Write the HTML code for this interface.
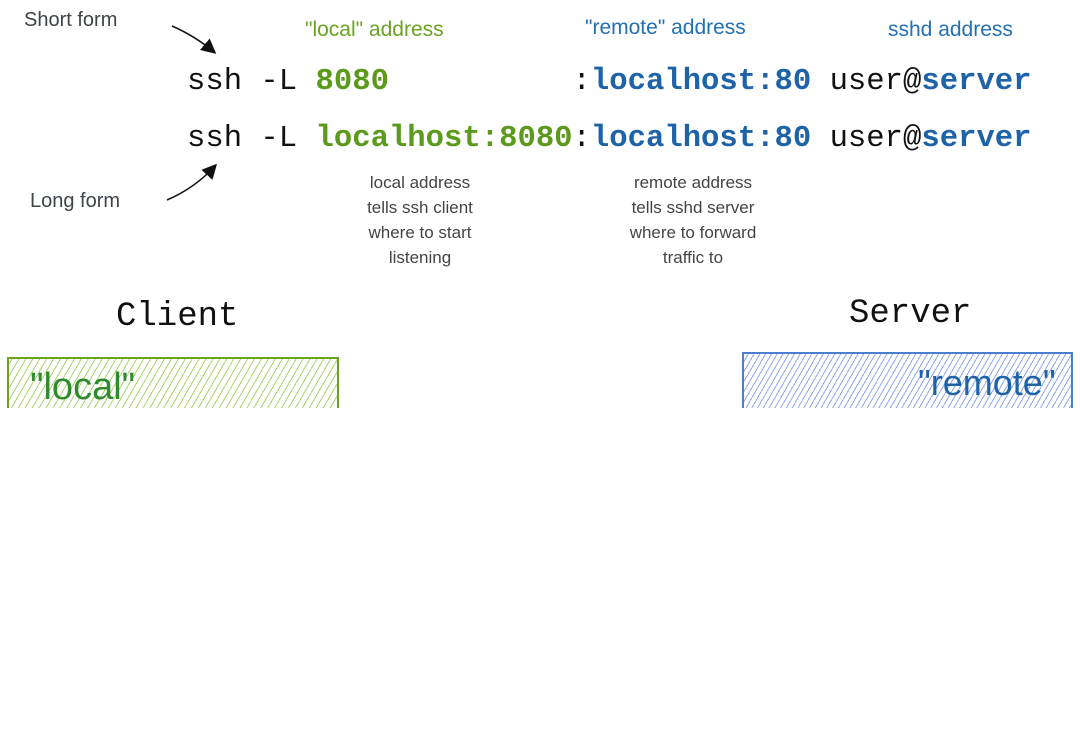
<!DOCTYPE html>
<html><head><meta charset="utf-8"><style>
body{margin:0;width:1080px;height:756px;background:#fff;position:relative;overflow:hidden;font-family:"Liberation Sans",sans-serif}
.a{position:absolute;white-space:pre}
.m{font-family:"Liberation Mono",monospace;font-size:30.6px;color:#111;line-height:1}
.g{color:#5b9a1a;font-weight:bold}.b{color:#1e63a8;font-weight:bold}
.h{color:#3d444b;font-size:20px}
.n{color:#444;font-size:17px;text-align:center;line-height:25px}
#clip{position:absolute;left:0;top:0;width:1080px;height:408px;overflow:hidden}
</style></head><body><div id="clip">
<div class="a h" style="left:24px;top:9px">Short form</div>
<div class="a h" style="left:30px;top:190px">Long form</div>
<div class="a" style="left:305px;top:18px;color:#6aa321;font-size:21px">"local" address</div>
<div class="a" style="left:585px;top:16px;color:#2470b5;font-size:21px">"remote" address</div>
<div class="a" style="left:888px;top:18px;color:#2470b5;font-size:21px">sshd address</div>
<div class="a m" style="left:187px;top:67px">ssh -L <span class="g">8080</span>          :<span class="b">localhost:80</span> user@<span class="b">server</span></div>
<div class="a m" style="left:187px;top:124px">ssh -L <span class="g">localhost:8080</span>:<span class="b">localhost:80</span> user@<span class="b">server</span></div>
<div class="a n" style="left:320px;top:170px;width:200px">local address
tells ssh client
where to start
listening</div>
<div class="a n" style="left:593px;top:170px;width:200px">remote address
tells sshd server
where to forward
traffic to</div>
<svg class="a" style="left:0;top:0" width="1080" height="408">
<defs><marker id="ar" markerWidth="10" markerHeight="10" refX="8" refY="5" orient="auto"><path d="M0,0L10,5L0,10z" fill="#111"/></marker></defs>
<path d="M172,26 Q195,36 214,52" stroke="#111" stroke-width="1.5" fill="none" marker-end="url(#ar)"/>
<path d="M167,200 Q195,188 215,166" stroke="#111" stroke-width="1.5" fill="none" marker-end="url(#ar)"/>
</svg>
<div class="a" style="left:116px;top:298px;font-family:'Liberation Mono',monospace;font-size:34px;color:#111">Client</div>
<div class="a" style="left:849px;top:295px;font-family:'Liberation Mono',monospace;font-size:34px;color:#111">Server</div>
<div class="a" style="left:7px;top:357px;width:328px;height:60px;border:2px solid #6aa321;background:repeating-linear-gradient(-60deg,#fff 0 5px,#a9d46e 5px 6px)"></div>
<div class="a" style="left:30px;top:366px;color:#2f8a2f;font-size:38px">"local"</div>
<div class="a" style="left:742px;top:352px;width:327px;height:60px;border:2px solid #4a7fd0;background:repeating-linear-gradient(-60deg,#fff 0 4px,#8fa8ee 4px 5px)"></div>
<div class="a" style="left:918px;top:362px;color:#1e63a8;font-size:36px">"remote"</div>
</div></body></html>
